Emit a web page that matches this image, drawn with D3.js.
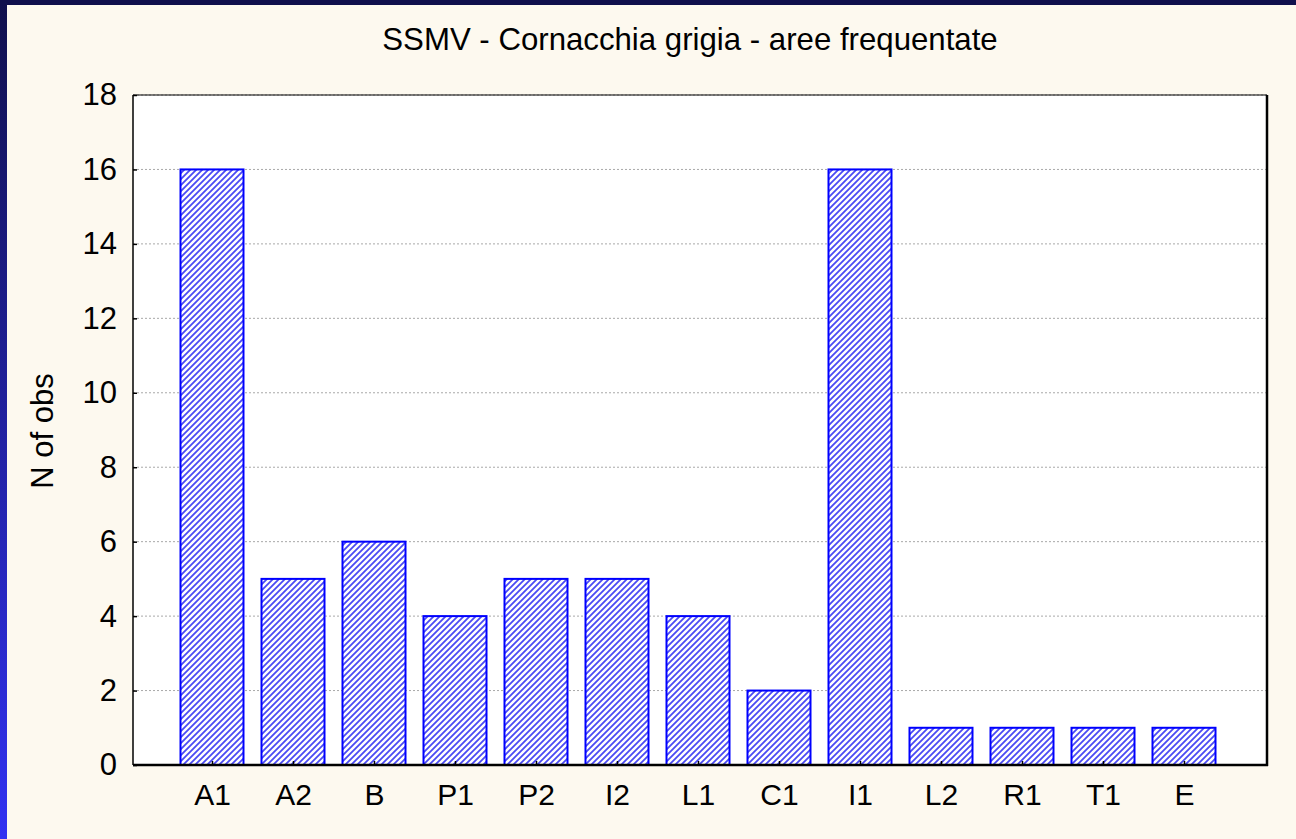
<!DOCTYPE html>
<html><head><meta charset="utf-8">
<script src="https://cdn.jsdelivr.net/npm/d3@7"></script>
<style>
html,body{margin:0;padding:0;background:#fdf9ef;}
svg{display:block;}
text{font-family:Arial,"Liberation Sans",sans-serif;fill:#000;}
</style></head>
<body>
<script>
const categories = ["A1","A2","B","P1","P2","I2","L1","C1","I1","L2","R1","T1","E"];
const values = [16,5,6,4,5,5,4,2,16,1,1,1,1];
const yTicks = [0,2,4,6,8,10,12,14,16,18];
const title = "SSMV - Cornacchia grigia - aree frequentate";
const yLabel = "N of obs";

const W = 1296, H = 839;
const svg = d3.select("body").append("svg").attr("width", W).attr("height", H);
const defs = svg.append("defs");
const lg = defs.append("linearGradient").attr("id","edge").attr("x1",0).attr("y1",0).attr("x2",0).attr("y2",1);
lg.append("stop").attr("offset","0%").attr("stop-color","#10104c");
lg.append("stop").attr("offset","100%").attr("stop-color","#3232f2");
const pat = defs.append("pattern").attr("id","hatch").attr("patternUnits","userSpaceOnUse")
  .attr("width",6).attr("height",6);
pat.append("rect").attr("width",6).attr("height",6).attr("fill","#fff");
pat.append("path").attr("d","M-1,1 L1,-1 M0,6 L6,0 M5,7 L7,5")
  .attr("stroke","#4a4af4").attr("stroke-width",1.8);

// background
svg.append("rect").attr("width",W).attr("height",H).attr("fill","#fdf9ef");
svg.append("rect").attr("x",0).attr("y",0).attr("width",W).attr("height",5).attr("fill","#10104c");
svg.append("rect").attr("x",0).attr("y",0).attr("width",7).attr("height",H).attr("fill","url(#edge)");

const x0 = 133, x1 = 1267, yTop = 95, yBot = 765;
const y = d3.scaleLinear().domain([0,18]).range([yBot,yTop]);
const x = d3.scalePoint().domain(categories).range([212,1184]);
const bw = 63;

svg.append("rect").attr("x",x0).attr("y",yTop).attr("width",x1-x0).attr("height",yBot-yTop).attr("fill","#fff");

// gridlines
svg.append("g").selectAll("line").data(yTicks.filter(d=>d>0)).join("line")
  .attr("x1",x0).attr("x2",x1).attr("y1",d=>y(d)).attr("y2",d=>y(d))
  .attr("stroke","#a8a8a8").attr("stroke-width",1).attr("stroke-dasharray","2,2");

// bars
svg.append("g").selectAll("rect").data(values).join("rect")
  .attr("x",(d,i)=>x(categories[i])-bw/2)
  .attr("y",d=>y(d))
  .attr("width",bw)
  .attr("height",d=>yBot-y(d))
  .attr("fill","url(#hatch)")
  .attr("stroke","#0000ff").attr("stroke-width",2);

// frame
svg.append("line").attr("x1",x0).attr("x2",x0).attr("y1",yTop).attr("y2",yBot).attr("stroke","#000").attr("stroke-width",1.5);
svg.append("line").attr("x1",x0).attr("x2",x1).attr("y1",yTop).attr("y2",yTop).attr("stroke","#000").attr("stroke-width",1.2);
svg.append("line").attr("x1",x1).attr("x2",x1).attr("y1",yTop).attr("y2",yBot+1).attr("stroke","#000").attr("stroke-width",2.5);
svg.append("line").attr("x1",x0).attr("x2",x1+1).attr("y1",yBot).attr("y2",yBot).attr("stroke","#000").attr("stroke-width",2.5);

const FF = "Arial, 'Liberation Sans', sans-serif";
// y axis
const yAxis = d3.axisLeft(y).tickValues(yTicks).tickSize(-4).tickPadding(16);
const ga = svg.append("g").attr("transform",`translate(${x0},0)`).call(yAxis);
ga.select(".domain").remove();
ga.selectAll(".tick line").attr("stroke","#000").attr("stroke-width",1.5);
ga.selectAll(".tick text").attr("font-size",31).attr("font-family",FF).attr("fill","#000");

// x axis
const xAxis = d3.axisBottom(x).tickSize(-4).tickPadding(19);
const gx = svg.append("g").attr("transform",`translate(0,${yBot})`).call(xAxis);
gx.select(".domain").remove();
gx.selectAll(".tick line").attr("stroke","#000").attr("stroke-width",1.5);
gx.selectAll(".tick text").attr("font-size",30).attr("font-family",FF).attr("fill","#000");

// title
svg.append("text").attr("x",690).attr("y",50).attr("text-anchor","middle").attr("font-size",31.2).text(title);
// y label
svg.append("text").attr("transform",`translate(53,431) rotate(-90)`).attr("text-anchor","middle").attr("font-size",31).text(yLabel);
</script>
</body></html>
